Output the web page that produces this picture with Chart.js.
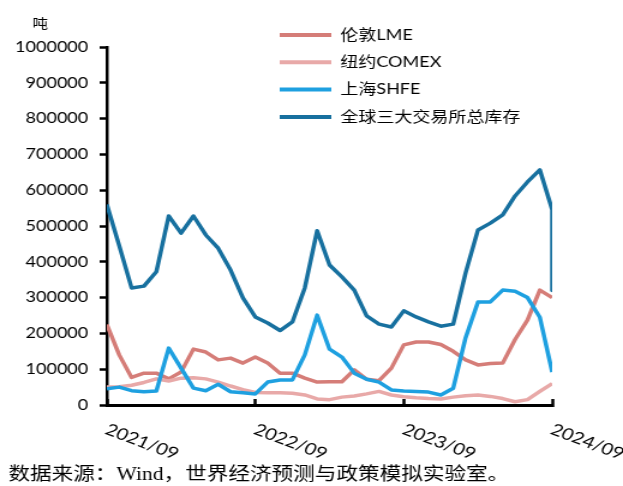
<!DOCTYPE html>
<html lang="zh-CN">
<head>
<meta charset="utf-8">
<title>全球三大交易所库存</title>
<script src="https://cdn.jsdelivr.net/npm/chart.js@4.4.1/dist/chart.umd.min.js"></script>
<style>
  html, body { margin: 0; padding: 0; background: #fff; overflow: hidden; }
  /* the reference is stretched sideways, so the chart is drawn narrower and scaled */
  #wrap { width: 519px; height: 486px; transform: scaleX(1.2004); transform-origin: 0 0; }
</style>
</head>
<body>
<div id="wrap"><canvas id="chart"></canvas></div>
<script>
// monthly readings, 2021/09 .. 2024/09 (tonnes)
const months = [
  '2021/09', '2021/10', '2021/11', '2021/12', '2022/01', '2022/02', '2022/03', '2022/04',
  '2022/05', '2022/06', '2022/07', '2022/08', '2022/09', '2022/10', '2022/11', '2022/12',
  '2023/01', '2023/02', '2023/03', '2023/04', '2023/05', '2023/06', '2023/07', '2023/08',
  '2023/09', '2023/10', '2023/11', '2023/12', '2024/01', '2024/02', '2024/03', '2024/04',
  '2024/05', '2024/06', '2024/07', '2024/08', '2024/09'
];
const lme = [225000, 140000, 77000, 89000, 89000, 73000, 92000, 156000, 148000, 126000,
  131000, 117000, 134000, 117000, 89000, 89000, 75000, 64000, 65000, 65000, 98000, 72000,
  68000, 103000, 168000, 176000, 176000, 169000, 150000, 126000, 112000, 116000, 117000,
  183000, 237000, 321000, 300000];
const comex = [50000, 51000, 55000, 63000, 73000, 67000, 75000, 76000, 73000, 64000,
  53000, 43000, 35000, 34000, 34000, 33000, 28000, 17000, 15000, 22000, 25000, 31000,
  38000, 28000, 23000, 20000, 18000, 17000, 22000, 26000, 28000, 24000, 18000, 9000,
  15000, 38000, 60000];
const shfe = [45000, 50000, 40000, 37000, 39000, 159000, 103000, 47000, 40000, 58000,
  37000, 34000, 31000, 64000, 70000, 70000, 140000, 251000, 156000, 134000, 89000, 72000,
  64000, 42000, 39000, 38000, 36000, 28000, 47000, 188000, 288000, 288000, 321000,
  318000, 300000, 245000, 92000];
const total = [560000, 445000, 327000, 332000, 372000, 528000, 480000, 528000, 475000,
  438000, 377000, 299000, 246000, 229000, 208000, 232000, 327000, 487000, 391000, 358000,
  321000, 249000, 226000, 218000, 263000, 246000, 232000, 220000, 226000, 369000, 489000,
  508000, 531000, 584000, 623000, 657000, 545000];
// a second total reading that falls in the same month as the last one
const totalTailMonth = '2024/09';
const totalTail = 320000;

const xLabels = ['2021/09', '2022/09', '2023/09', '2024/09'];

const FONT = "Lato, 'Noto Sans CJK SC', sans-serif";

function toPoints(values) {
  return values.map((v, i) => ({ x: i, y: v }));
}

const totalPoints = toPoints(total);
totalPoints.push({ x: months.indexOf(totalTailMonth), y: totalTail });

function line(label, data, color, order) {
  return {
    label: label,
    data: data,
    borderColor: color,
    backgroundColor: color,
    borderWidth: 3.5,
    borderJoinStyle: 'round',
    pointRadius: 0,
    tension: 0,
    order: order
  };
}

// "吨" unit text above the y axis
const unitLabel = {
  id: 'unitLabel',
  afterDraw(chart) {
    const ctx = chart.ctx;
    ctx.save();
    ctx.font = "13px 'Noto Sans CJK SC'";
    ctx.fillStyle = '#000';
    ctx.textBaseline = 'middle';
    ctx.fillText('吨', 27, 23);
    ctx.restore();
  }
};

// move the legend column to the upper middle of the plot
const placeLegend = {
  id: 'placeLegend',
  afterLayout(chart) {
    const lg = chart.legend;
    lg.left = 220.7;
    lg.top = 15.2;
    lg.right = 515;
    lg.bottom = 170;
  }
};

new Chart(document.getElementById('chart'), {
  type: 'line',
  data: {
    datasets: [
      line('伦敦LME', toPoints(lme), '#D57D78', 4),
      line('纽约COMEX', toPoints(comex), '#E8A9A8', 3),
      line('上海SHFE', toPoints(shfe), '#1EA0E0', 2),
      line('全球三大交易所总库存', totalPoints, '#17709F', 1)
    ]
  },
  options: {
    responsive: true,
    maintainAspectRatio: false,
    animation: false,
    layout: { padding: { left: 7, right: 59, top: 47, bottom: 0 } },
    plugins: {
      tooltip: { enabled: false },
      legend: {
        position: 'chartArea',
        fullSize: false,
        align: 'start',
        labels: {
          boxWidth: 43,
          boxHeight: 4,
          padding: 12.3,
          color: '#000',
          font: { family: FONT, size: 15 },
          sort: (a, b) => a.datasetIndex - b.datasetIndex,
          generateLabels: (chart) =>
            Chart.defaults.plugins.legend.labels.generateLabels(chart)
              .map(item => Object.assign(item, { lineWidth: 0 }))
        }
      },
      title: {
        display: true,
        position: 'bottom',
        align: 'start',
        text: '数据来源：Wind，世界经济预测与政策模拟实验室。',
        color: '#000',
        font: { family: "'Liberation Serif', 'Noto Sans CJK SC', serif", size: 18, weight: 'normal', lineHeight: 1.2 },
        padding: 0
      }
    },
    scales: {
      x: {
        type: 'linear',
        position: 'bottom',
        min: 0,
        max: 36,
        border: { color: '#000', width: 3 },
        grid: { drawOnChartArea: false, tickLength: -6, tickWidth: 2.5, tickColor: '#000' },
        ticks: {
          stepSize: 12,
          autoSkip: false,
          minRotation: -24,
          maxRotation: -24,
          labelOffset: 59,
          padding: 47,
          color: '#000',
          font: { family: FONT, size: 16.5 },
          callback: (v, i) => xLabels[i]
        },
        afterFit: (s) => { s.height = 59.4; s.paddingLeft = 0; s.paddingRight = 0; }
      },
      y: {
        min: 0,
        max: 1000000,
        border: { color: '#000', width: 2.5 },
        grid: { drawOnChartArea: false, tickLength: 6, tickWidth: 2.5, tickColor: '#000' },
        ticks: {
          stepSize: 100000,
          padding: 9.5,
          color: '#000',
          font: { family: FONT, size: 15 },
          callback: (v) => String(v)
        },
        afterFit: (s) => { s.width = 82; }
      }
    }
  },
  plugins: [unitLabel, placeLegend]
});
</script>
</body>
</html>
